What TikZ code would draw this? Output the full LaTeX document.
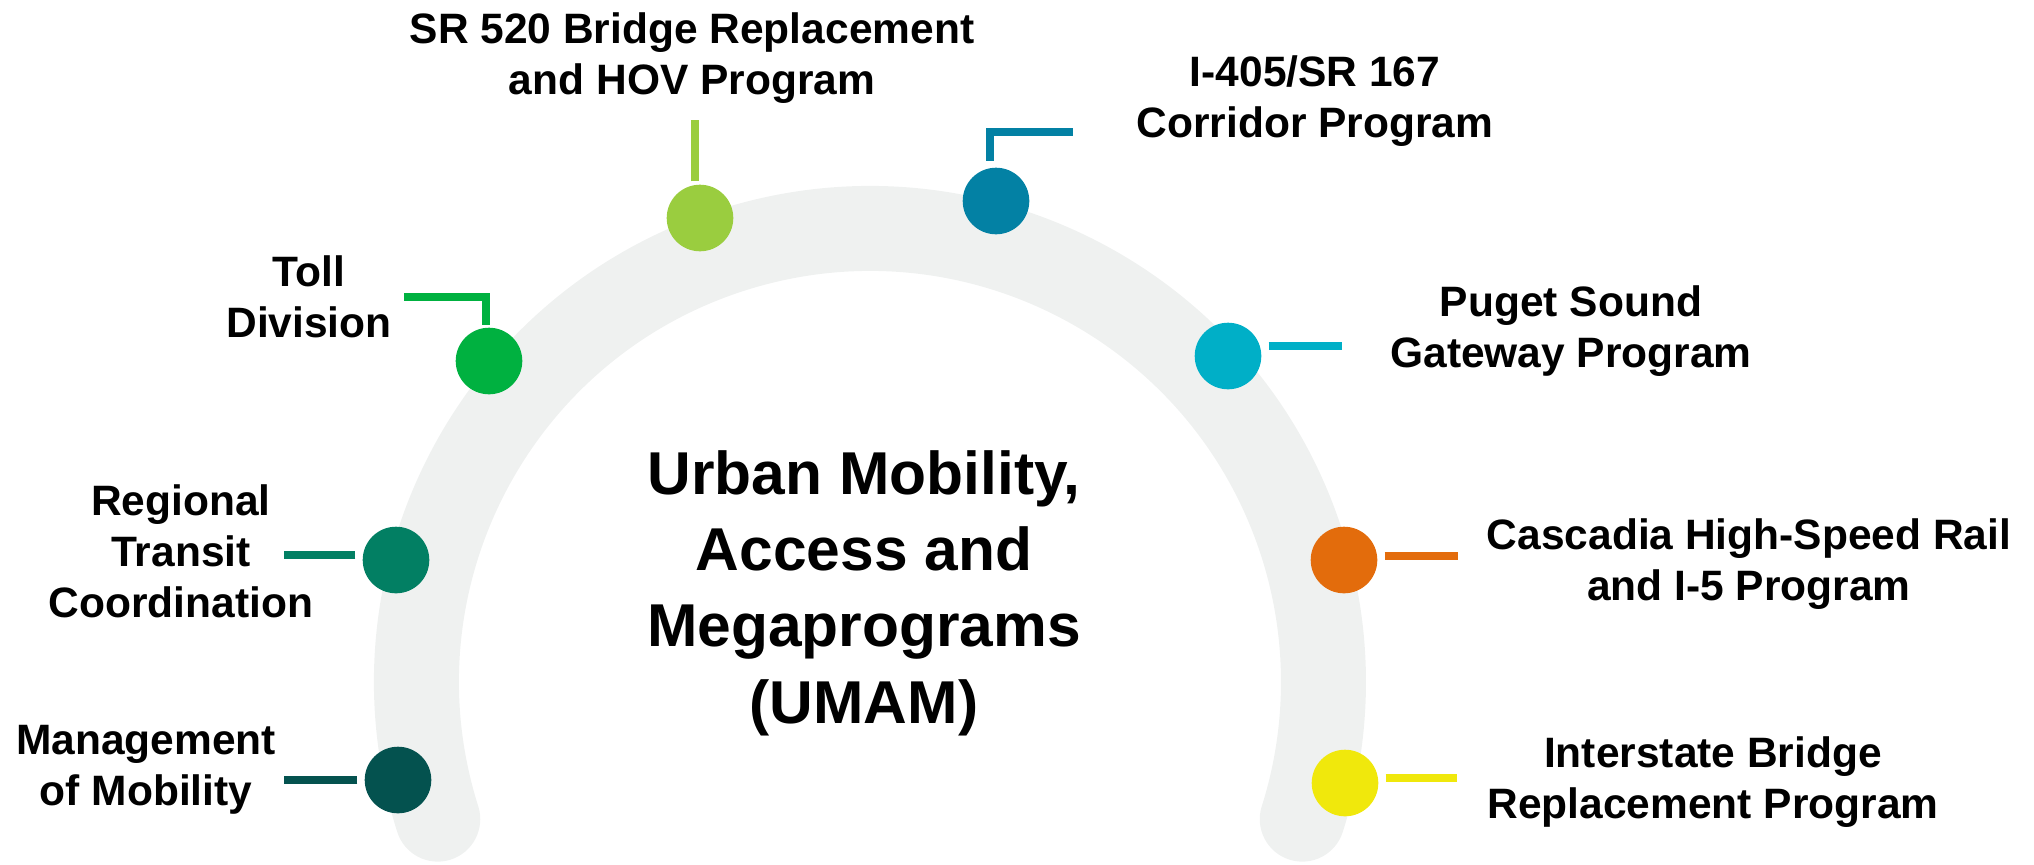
\documentclass[tikz,border=0pt]{standalone}
\usepackage{fontspec}
\setmainfont{Liberation Sans}
\usetikzlibrary{calc}
\definecolor{bandgray}{HTML}{EFF1F0}
\definecolor{colMoM}{HTML}{04524F}
\definecolor{colRTC}{HTML}{027F63}
\definecolor{colToll}{HTML}{00B140}
\definecolor{colSR}{HTML}{9ACD3F}
\definecolor{colCor}{HTML}{0381A4}
\definecolor{colPSG}{HTML}{00AFC7}
\definecolor{colCHS}{HTML}{E36C0C}
\definecolor{colIBR}{HTML}{F0E80C}
\tikzset{
    band/.style={draw=bandgray, line width=42.5pt, line cap=round},
    dot/.style={shape=circle, inner sep=0pt, minimum size=33.3pt},
    link/.style={line width=4pt},
    tag/.style={font=\bfseries\fontsize{21.25}{25.5}\selectfont, align=center, anchor=base, inner sep=0pt},
    hub/.style={font=\bfseries\fontsize{30.25}{38.15}\selectfont, align=center, anchor=base, inner sep=0pt},
}
\begin{document}
\begin{tikzpicture}[x=0.5pt, y=-0.5pt]
    \useasboundingbox (0,0) rectangle (2034,864);
    \draw[band] (870,682) ++(162.4:453.5) arc[start angle=162.4, end angle=377.6, radius=453.5];
    \foreach \n/\x/\y in {MoM/398/780, RTC/396/560, Toll/489/361, SR/700/218, Cor/996/201, PSG/1228/356, CHS/1344/560, IBR/1345/783}
        \node[dot, fill=col\n] (dot_\n) at (\x,\y) {};
    \node[tag] (txt_SR) at (692,94) {SR 520 Bridge Replacement\\and HOV Program};
    \node[tag] (txt_Cor) at (1315,137) {I-405/SR 167\\Corridor Program};
    \node[tag] (txt_Toll) at (309,337) {Toll\\Division};
    \node[tag] (txt_PSG) at (1571,367) {Puget Sound\\Gateway Program};
    \node[tag] (txt_RTC) at (181,617) {Regional\\Transit\\Coordination};
    \node[tag] (txt_CHS) at (1749,600) {Cascadia High-Speed Rail\\and I-5 Program};
    \node[tag] (txt_MoM) at (146,805) {Management\\of Mobility};
    \node[tag] (txt_IBR) at (1713,818) {Interstate Bridge\\Replacement Program};
    \node[hub] (hub) at (864,723) {Urban Mobility,\\Access and\\Megaprograms\\(UMAM)};
    \coordinate (end_MoM) at (284,780);
    \coordinate (end_RTC) at (284,555);
    \coordinate (end_PSG) at (1342,346);
    \coordinate (end_CHS) at (1458,556);
    \coordinate (end_IBR) at (1457,778);
    \coordinate (end_SR) at (695,120);
    \coordinate (knee_Cor) at (990,132);
    \coordinate (end_Cor) at (1073,132);
    \coordinate (knee_Toll) at (486,297);
    \coordinate (end_Toll) at (404,297);
    \foreach \n/\a in {MoM/west, RTC/west, PSG/east, CHS/east, IBR/east}
        \draw[link, draw=col\n, shorten <=3.5pt] (dot_\n.\a |- end_\n) -- (end_\n);
    \draw[link, draw=colSR, shorten <=1.5pt] (dot_SR.north -| end_SR) -- (end_SR);
    \draw[link, draw=colCor, shorten <=3.3pt] (dot_Cor.north -| knee_Cor) -- (knee_Cor) -- (end_Cor);
    \draw[link, draw=colToll, shorten >=1pt] (end_Toll) -- (knee_Toll) -- (dot_Toll.north -| knee_Toll);
\end{tikzpicture}
\end{document}
